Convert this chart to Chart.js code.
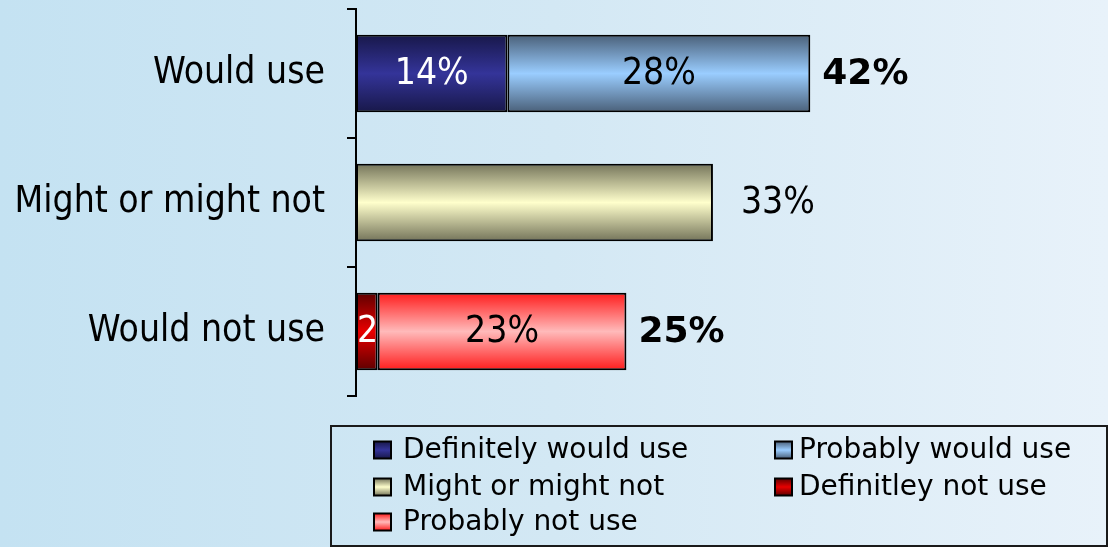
<!DOCTYPE html>
<html>
<head>
<meta charset="utf-8">
<script src="https://cdn.jsdelivr.net/npm/chart.js@4/dist/chart.umd.min.js"></script>
<style>
  html, body { margin: 0; padding: 0; }
  body { width: 1108px; height: 547px; overflow: hidden;
         background: linear-gradient(to right, #c4e2f2 0%, #d3e8f4 50%, #e8f2fa 100%); }
  #wrap { position: relative; width: 1108px; height: 547px; }
</style>
</head>
<body>
<div id="wrap"><canvas id="c" width="1108" height="547"></canvas></div>
<script>
// ---- data ----
const categories = ['Would use', 'Might or might not', 'Would not use'];
const seriesNames = ['Definitely would use', 'Probably would use', 'Might or might not', 'Definitley not use', 'Probably not use'];
const definitelyWould = [14, null, null];
const probablyWould   = [28, null, null];
const mightOrMightNot = [null, 33, null];
const definitelyNot   = [null, null, 2];
const probablyNot     = [null, null, 23];
const totals          = [42, null, 25];

// ---- styles ----
const gradColors = [
  { edge: '#18184a', center: '#343499' },
  { edge: '#4a6079', center: '#9acdff' },
  { edge: '#74745a', center: '#ffffcc' },
  { edge: '#5e0000', center: '#e80000' },
  { edge: '#ff1c1c', center: '#ffbaba' }
];
const labelColors = ['#ffffff', '#000000', '#000000', '#ffffff', '#000000'];
const LABEL_FONT = "37px 'DejaVu Sans Condensed', 'DejaVu Sans', sans-serif";
const TOTAL_FONT = "bold 36px 'DejaVu Sans', sans-serif";
const LEGEND_FONT = "28px 'DejaVu Sans', sans-serif";
const CAT_PCT = 0.6;

function vGrad(ctx, y0, y1, c) {
  const g = ctx.createLinearGradient(0, y0, 0, y1);
  g.addColorStop(0, c.edge);
  g.addColorStop(0.5, c.center);
  g.addColorStop(1, c.edge);
  return g;
}

function barFill(idx) {
  return (c) => {
    const chart = c.chart;
    const ys = chart.scales && chart.scales.y;
    if (!ys || c.type !== 'data' || !chart.chartArea) return gradColors[idx].center;
    const yc = ys.getPixelForValue(c.dataIndex);
    const band = Math.abs(ys.getPixelForValue(1) - ys.getPixelForValue(0));
    const half = band * CAT_PCT / 2;
    return vGrad(chart.ctx, yc - half, yc + half, gradColors[idx]);
  };
}

const seriesData = [definitelyWould, probablyWould, mightOrMightNot, definitelyNot, probablyNot];

const datasets = seriesData.map((d, i) => ({
  label: seriesNames[i],
  data: d,
  backgroundColor: barFill(i),
  borderColor: '#000000',
  borderWidth: 2,
  borderSkipped: false,
  categoryPercentage: CAT_PCT,
  barPercentage: 1.0
}));

const labelPlugin = {
  id: 'segLabels',
  afterDatasetsDraw(chart) {
    const ctx = chart.ctx;
    ctx.save();
    ctx.font = LABEL_FONT;
    ctx.textBaseline = 'middle';
    const rowEnds = {};
    chart.data.datasets.forEach((ds, di) => {
      const meta = chart.getDatasetMeta(di);
      meta.data.forEach((el, idx) => {
        const v = ds.data[idx];
        if (v === null || v === undefined) return;
        const p = el.getProps(['x', 'y', 'base', 'height'], true);
        const left = Math.min(p.x, p.base), right = Math.max(p.x, p.base);
        rowEnds[idx] = Math.max(rowEnds[idx] || 0, right);
        const count = chart.data.datasets.filter(d => d.data[idx] !== null && d.data[idx] !== undefined).length;
        const txt = v + '%';
        const w = ctx.measureText(txt).width;
        if (count === 1) {
          ctx.fillStyle = '#000000';
          ctx.textAlign = 'left';
          ctx.fillText(txt, right + 28, p.y + 1);
        } else if (w > right - left - 4) {
          ctx.save();
          ctx.beginPath();
          ctx.rect(left + 1, p.y - p.height / 2, right - left - 2, p.height);
          ctx.clip();
          ctx.fillStyle = labelColors[di];
          ctx.textAlign = 'left';
          ctx.fillText(txt, left + 1, p.y + 1);
          ctx.restore();
        } else {
          ctx.fillStyle = labelColors[di];
          ctx.textAlign = 'center';
          ctx.fillText(txt, (left + right) / 2, p.y + 1);
        }
      });
    });
    ctx.font = TOTAL_FONT;
    ctx.fillStyle = '#000000';
    ctx.textAlign = 'left';
    const ys = chart.scales.y;
    totals.forEach((t, idx) => {
      if (t === null) return;
      ctx.fillText(t + '%', rowEnds[idx] + 12, ys.getPixelForValue(idx) + 1);
    });
    ctx.restore();
  }
};

const legendPlugin = {
  id: 'boxLegend',
  afterDraw(chart) {
    const ctx = chart.ctx;
    ctx.save();
    ctx.strokeStyle = '#1a1a1a';
    ctx.lineWidth = 2;
    ctx.strokeRect(331, 426, 776, 120);
    const colSw = [374, 775], colTx = [403, 799];
    const rowY = [450, 487, 522];
    ctx.font = LEGEND_FONT;
    ctx.textBaseline = 'middle';
    ctx.textAlign = 'left';
    chart.data.datasets.forEach((ds, i) => {
      const col = i % 2, row = Math.floor(i / 2);
      const x = colSw[col], y = rowY[row];
      const s = 17;
      ctx.fillStyle = vGrad(ctx, y - s / 2, y + s / 2, gradColors[i]);
      ctx.fillRect(x, y - s / 2, s, s);
      ctx.lineWidth = 2;
      ctx.strokeStyle = '#000000';
      ctx.strokeRect(x, y - s / 2, s, s);
      ctx.fillStyle = '#000000';
      ctx.fillText(ds.label, colTx[col], y + 1);
    });
    ctx.restore();
  }
};

new Chart(document.getElementById('c'), {
  type: 'bar',
  data: { labels: categories, datasets },
  options: {
    indexAxis: 'y',
    responsive: false,
    devicePixelRatio: 1,
    animation: false,
    layout: { padding: { top: 9, right: 103, bottom: 151, left: 0 } },
    plugins: { legend: { display: false }, tooltip: { enabled: false } },
    scales: {
      x: { stacked: true, display: false, min: 0, max: 60 },
      y: {
        stacked: true,
        afterFit(scale) { scale.width = 356; scale.paddingTop = 0; scale.paddingBottom = 0; },
        border: { display: true, color: '#000000', width: 2 },
        grid: { drawOnChartArea: false, drawTicks: true, tickLength: 9, color: '#000000', lineWidth: 2, offset: true },
        ticks: { color: '#000000', padding: 22, font: { family: "'DejaVu Sans Condensed', 'DejaVu Sans', sans-serif", size: 37 } }
      }
    }
  },
  plugins: [labelPlugin, legendPlugin]
});
</script>
</body>
</html>
